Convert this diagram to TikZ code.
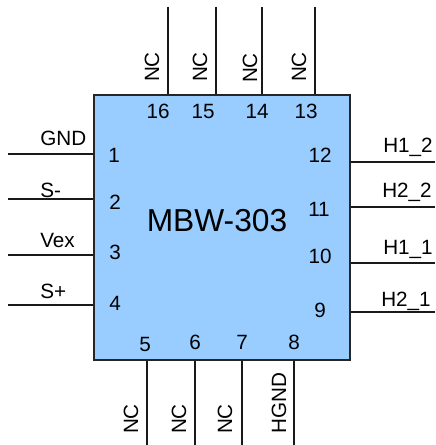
\documentclass[tikz,border=0pt]{standalone}
\usepackage{fontspec}
\setmainfont{Liberation Sans}
\usepackage{tikz}
\tikzstyle{chip} = [rectangle, minimum width=192pt, minimum height=198.75pt, inner sep=0pt, draw=black!85, line width=1.5pt, fill=chipblue]
\tikzstyle{title} = [anchor=base, inner sep=0pt, font=\fontsize{23.8}{26}\selectfont]
\tikzstyle{pinnum} = [anchor=base, inner sep=0pt, font=\fontsize{15.5}{18}\selectfont]
\tikzstyle{signal} = [anchor=base west, inner sep=0pt, font=\fontsize{15.5}{18}\selectfont]
\tikzstyle{vsignal} = [anchor=base, rotate=90, inner sep=0pt, font=\fontsize{15.5}{18}\selectfont]
\tikzstyle{wire} = [line width=1.4pt, black!90]
\definecolor{chipblue}{HTML}{99CCFF}

\begin{document}
\begin{tikzpicture}[x=0.75pt,y=-0.75pt]
\useasboundingbox (0,0) rectangle (435,445);
\node (chip) [chip] at (222,227.5) {};
\node (name) [title] at (217,231) {MBW-303};

\node (n1) [pinnum] at (114,163) {1};
\node (n2) [pinnum] at (115,209) {2};
\node (n3) [pinnum] at (115,259) {3};
\node (n4) [pinnum] at (115,310) {4};
\node (n5) [pinnum] at (145,351) {5};
\node (n6) [pinnum] at (195,349) {6};
\node (n7) [pinnum] at (242,349) {7};
\node (n8) [pinnum] at (294,349) {8};
\node (n9) [pinnum] at (320,317) {9};
\node (n10) [pinnum] at (320,263) {10};
\node (n11) [pinnum] at (319,216) {11};
\node (n12) [pinnum] at (320,162) {12};
\node (n13) [pinnum] at (306,119) {13};
\node (n14) [pinnum] at (257,119) {14};
\node (n15) [pinnum] at (203,119) {15};
\node (n16) [pinnum] at (158,119) {16};

\node (gnd) [signal] at (40,146) {GND};
\node (sminus) [signal] at (40,197) {S-};
\node (vex) [signal] at (40,247) {Vex};
\node (splus) [signal] at (40,298) {S+};
\node (h12) [signal] at (383,153) {H1\_2};
\node (h22) [signal] at (382,197) {H2\_2};
\node (h11) [signal] at (383,254) {H1\_1};
\node (h21) [signal] at (381,306) {H2\_1};

\node (nc16) [vsignal] at (159,67) {NC};
\node (nc15) [vsignal] at (207,67) {NC};
\node (nc14) [vsignal] at (257,68) {NC};
\node (nc13) [vsignal] at (306,67) {NC};
\node (nc5) [vsignal] at (138,419) {NC};
\node (nc6) [vsignal] at (186,419) {NC};
\node (nc7) [vsignal] at (232,419) {NC};
\node (hgnd) [vsignal] at (286,403) {HGND};

\coordinate (p1) at (8,154);
\coordinate (p2) at (8,199);
\coordinate (p3) at (8,255);
\coordinate (p4) at (8,305);
\coordinate (p5) at (147,445);
\coordinate (p6) at (195,445);
\coordinate (p7) at (242,445);
\coordinate (p8) at (294,445);
\coordinate (p9) at (435,312);
\coordinate (p10) at (435,263);
\coordinate (p11) at (435,207);
\coordinate (p12) at (435,162);
\coordinate (p13) at (315,7);
\coordinate (p14) at (262,7);
\coordinate (p15) at (216,7);
\coordinate (p16) at (168,7);

\draw [wire] (p1) -- (p1 -| chip.west);
\draw [wire] (p2) -- (p2 -| chip.west);
\draw [wire] (p3) -- (p3 -| chip.west);
\draw [wire] (p4) -- (p4 -| chip.west);
\draw [wire] (p5) -- (p5 |- chip.south);
\draw [wire] (p6) -- (p6 |- chip.south);
\draw [wire] (p7) -- (p7 |- chip.south);
\draw [wire] (p8) -- (p8 |- chip.south);
\draw [wire] (p9) -- (p9 -| chip.east);
\draw [wire] (p10) -- (p10 -| chip.east);
\draw [wire] (p11) -- (p11 -| chip.east);
\draw [wire] (p12) -- (p12 -| chip.east);
\draw [wire] (p13) -- (p13 |- chip.north);
\draw [wire] (p14) -- (p14 |- chip.north);
\draw [wire] (p15) -- (p15 |- chip.north);
\draw [wire] (p16) -- (p16 |- chip.north);
\end{tikzpicture}
\end{document}
